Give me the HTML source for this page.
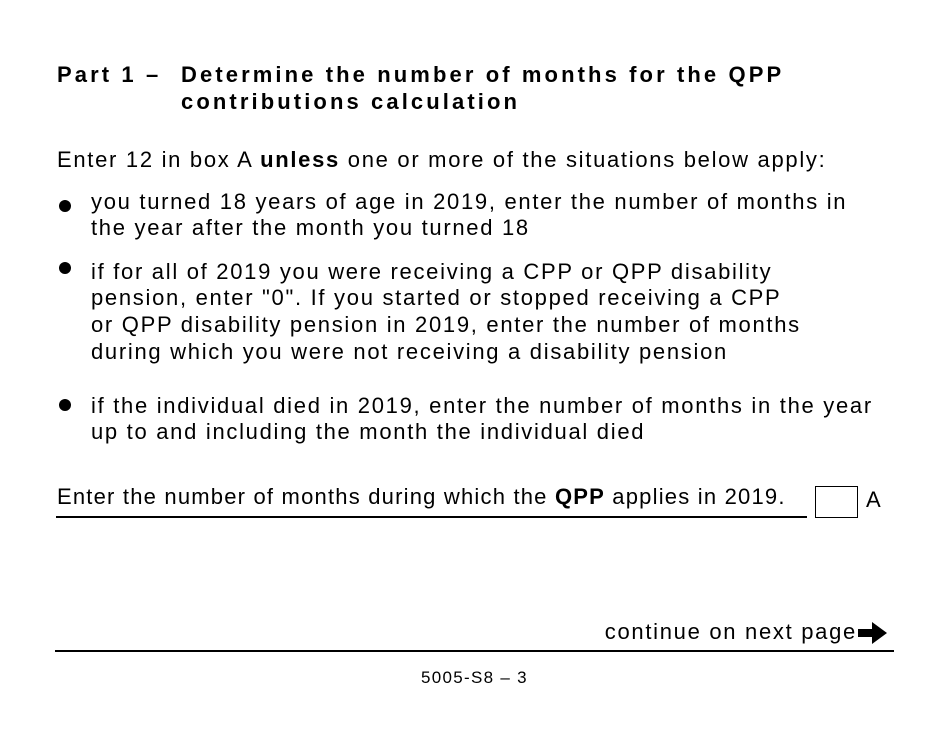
<!DOCTYPE html>
<html><head><meta charset="utf-8"><style>
body{margin:0;width:950px;height:733px;background:#fff;position:relative;overflow:hidden;font-family:"Liberation Sans",Arial,sans-serif;color:#000}
.t{position:absolute;white-space:nowrap;font-size:22px;letter-spacing:1.7px;line-height:26px}
.h{font-weight:bold;font-size:22px;letter-spacing:3.1px}
.dot{position:absolute;width:12px;height:12px;border-radius:50%;background:#000}
</style></head><body>
<div class="t h" style="left:57px;top:62px">Part 1 –</div>
<div class="t h" style="left:181px;top:62px">Determine the number of months for the QPP</div>
<div class="t h" style="left:181px;top:89px">contributions calculation</div>
<div class="t" style="left:57px;top:147px">Enter 12 in box A <b>unless</b> one or more of the situations below apply:</div>
<div class="dot" style="left:59px;top:200px"></div>
<div class="t" style="left:91px;top:189px">you turned 18 years of age in 2019, enter the number of months in</div>
<div class="t" style="left:91px;top:215px">the year after the month you turned 18</div>
<div class="dot" style="left:59px;top:262px"></div>
<div class="t" style="left:91px;top:259px">if for all of 2019 you were receiving a CPP or QPP disability</div>
<div class="t" style="left:91px;top:285px">pension, enter "0". If you started or stopped receiving a CPP</div>
<div class="t" style="left:91px;top:312px">or QPP disability pension in 2019, enter the number of months</div>
<div class="t" style="left:91px;top:339px">during which you were not receiving a disability pension</div>
<div class="dot" style="left:59px;top:399px"></div>
<div class="t" style="left:91px;top:393px">if the individual died in 2019, enter the number of months in the year</div>
<div class="t" style="left:91px;top:419px">up to and including the month the individual died</div>
<div class="t" style="left:57px;top:484px;letter-spacing:1.2px">Enter the number of months during which the <b>QPP</b> applies in 2019.</div>
<div style="position:absolute;left:56px;top:516px;width:751px;height:2px;background:#000"></div>
<div style="position:absolute;left:815px;top:486px;width:41px;height:30px;border:1.5px solid #000"></div>
<div class="t" style="left:866px;top:487px;letter-spacing:0">A</div>
<div class="t" style="right:93px;top:619px">continue on next page</div>
<svg style="position:absolute;left:858px;top:621px" width="30" height="24" viewBox="0 0 30 24"><path d="M0 8h14V1l15 11-15 11v-7H0z" fill="#000"/></svg>
<div style="position:absolute;left:55px;top:650px;width:839px;height:2px;background:#000"></div>
<div class="t" style="left:421px;top:665px;font-size:17px;letter-spacing:1.3px">5005-S8 – 3</div>
</body></html>
